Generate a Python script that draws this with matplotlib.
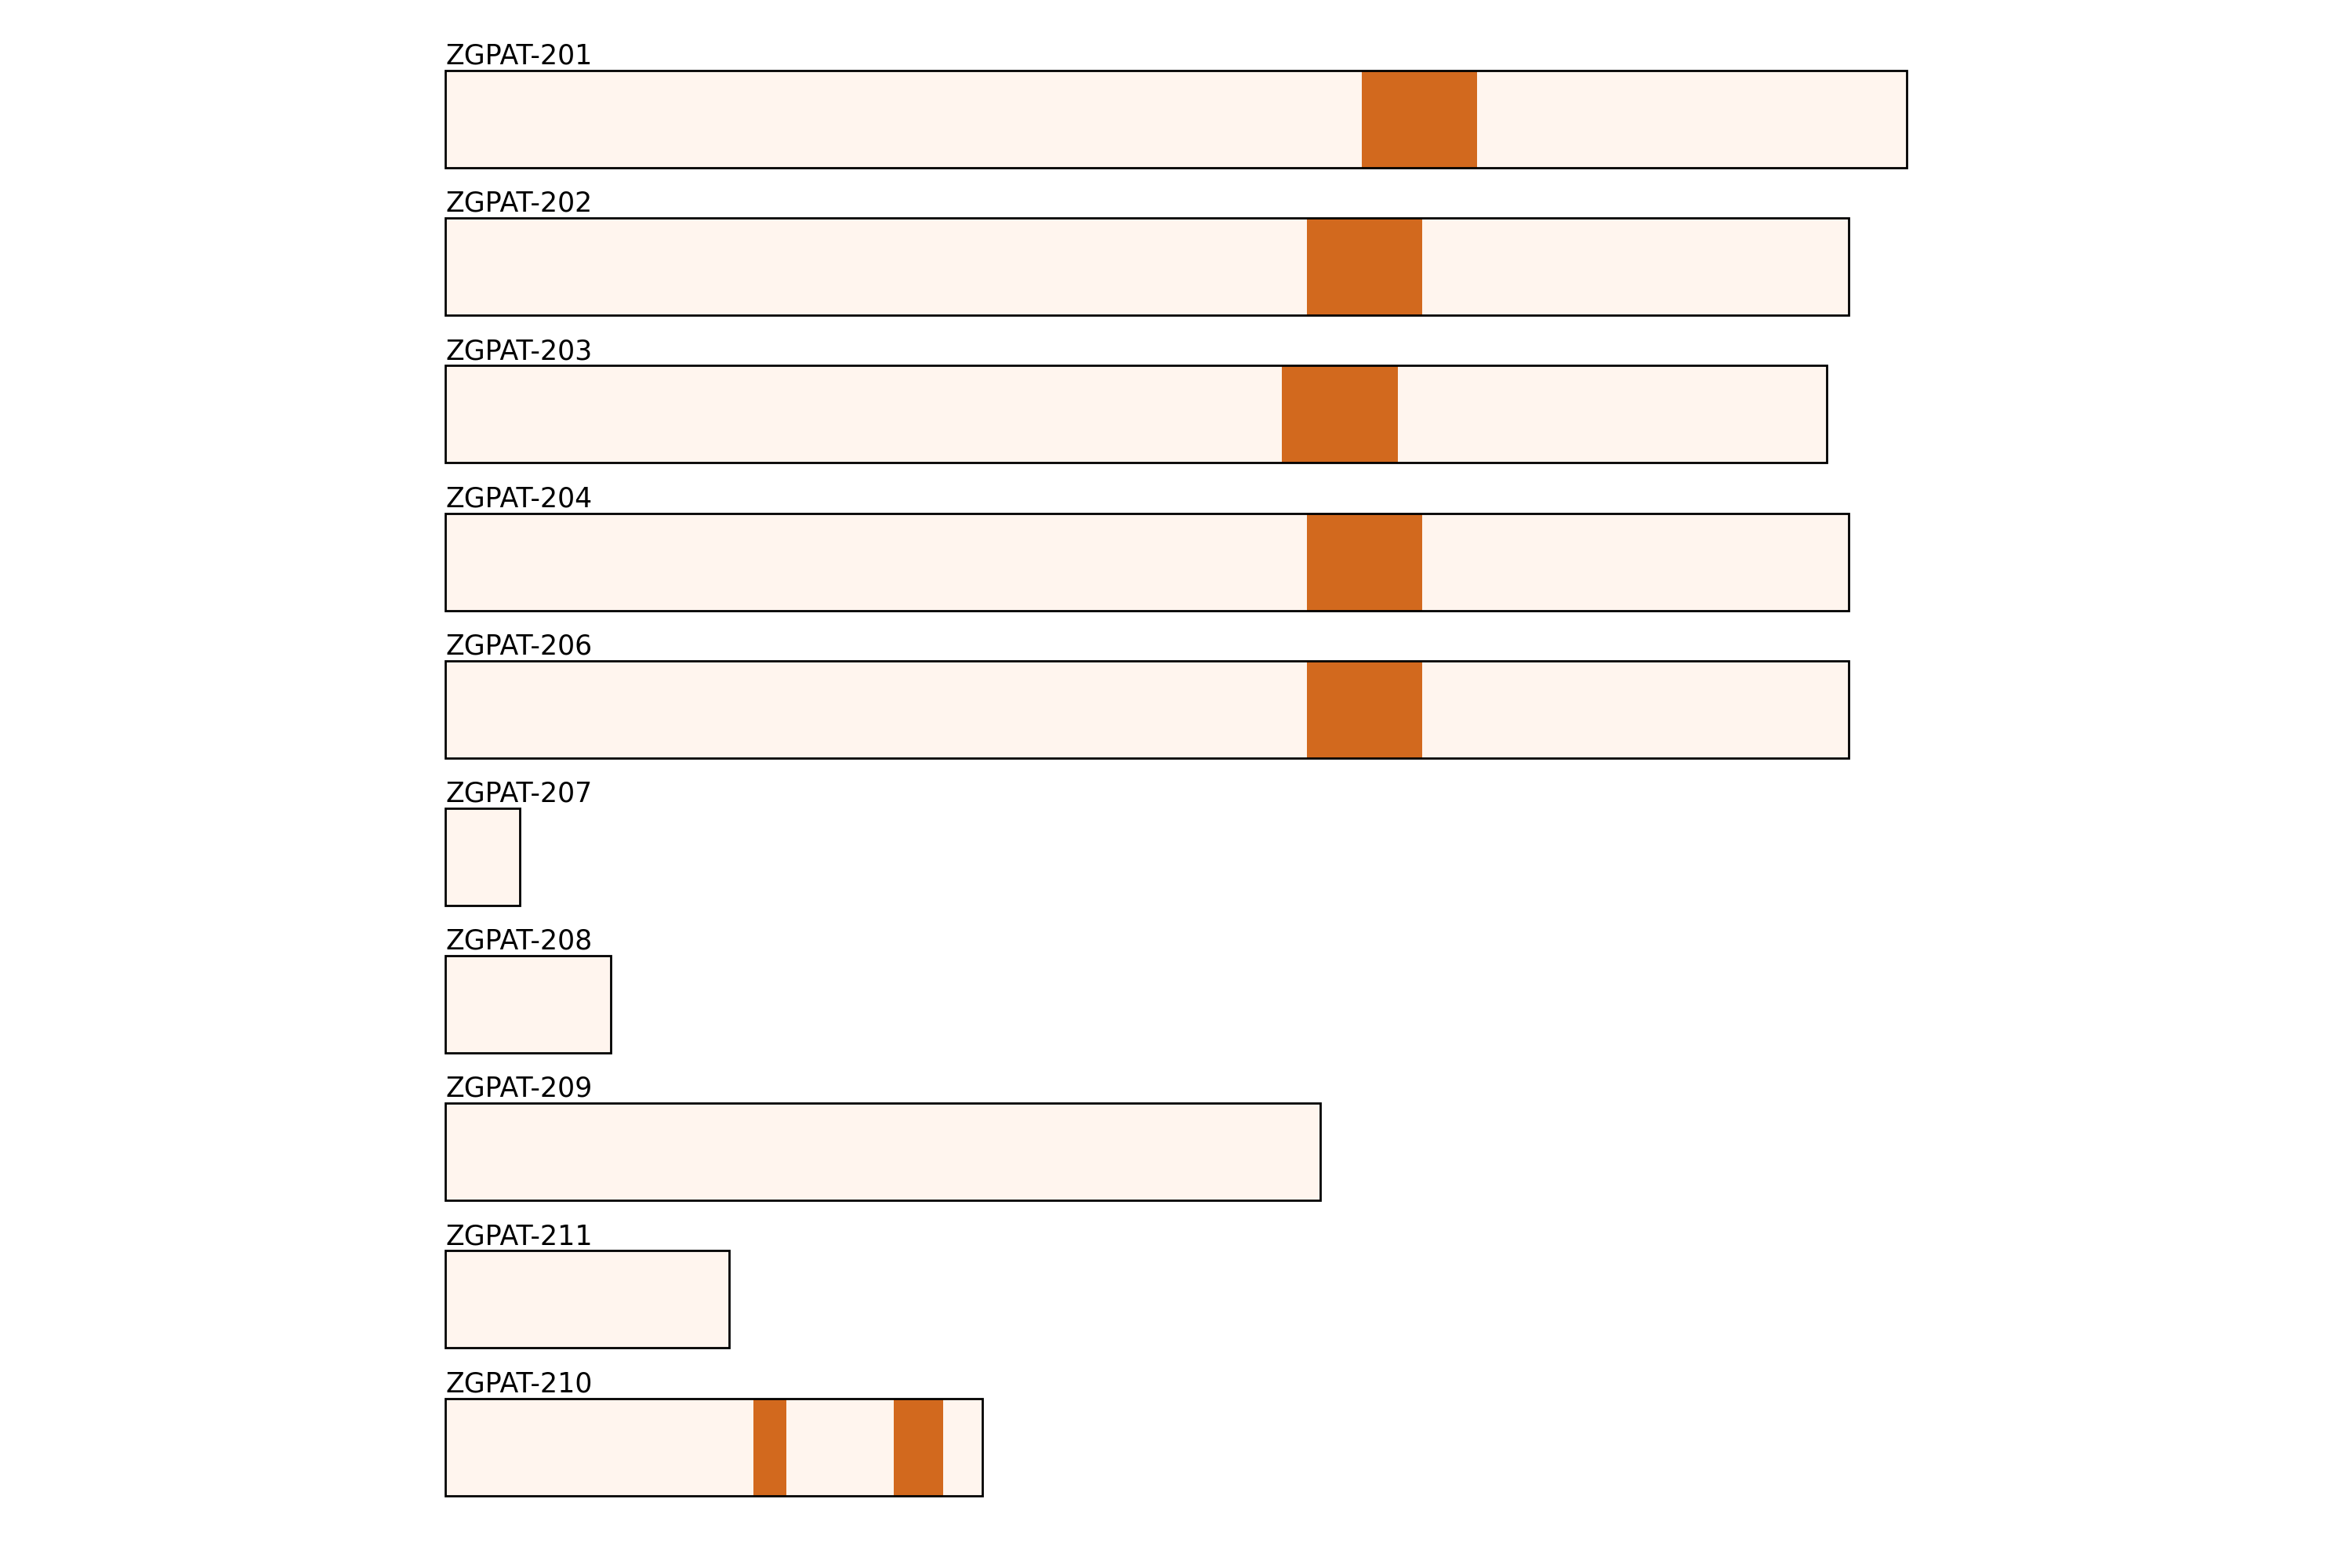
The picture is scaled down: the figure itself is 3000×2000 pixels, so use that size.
import matplotlib
matplotlib.use("Agg")
import matplotlib.pyplot as plt

# transcript names (top to bottom) and protein lengths (aa)
names = ["ZGPAT-201", "ZGPAT-202", "ZGPAT-203", "ZGPAT-204", "ZGPAT-206",
         "ZGPAT-207", "ZGPAT-208", "ZGPAT-209", "ZGPAT-211", "ZGPAT-210"]
lengths = [531, 510, 502, 510, 510, 27, 60, 318, 103, 195]

# domain start / end per transcript (empty list = no domain)
dom_start = [[333], [313], [304], [313], [313], [], [], [], [], [112, 163]]
dom_end = [[375], [355], [346], [355], [355], [], [], [], [], [124, 181]]

bar_h = 0.659

fig = plt.figure(figsize=(15, 10), dpi=200)
ax = fig.add_axes([568 / 3000, 0.0462, 1864 / 3000, 0.9088])

for i, name in enumerate(names):
    ax.barh(i, lengths[i], left=0, height=bar_h, align="edge",
            facecolor="seashell", edgecolor="none", zorder=1)
    for s, e in zip(dom_start[i], dom_end[i]):
        ax.barh(i, e - s, left=s, height=bar_h, align="edge",
                color="chocolate", edgecolor="none", zorder=2)
    # outline on top
    outline = ax.barh(i, lengths[i], left=0, height=bar_h, align="edge",
                      fill=False, edgecolor="black", linewidth=1, zorder=3)
    for p in outline:
        p.set_clip_on(False)
    ax.annotate(name, xy=(0, i), xytext=(0, 3), textcoords="offset points",
                ha="left", va="baseline", fontsize=12.5)

ax.set_xlim(0, lengths[0])
ax.set_ylim(len(names) - 1 + bar_h, 0)
ax.axis("off")

plt.savefig("out.png", dpi=200)
